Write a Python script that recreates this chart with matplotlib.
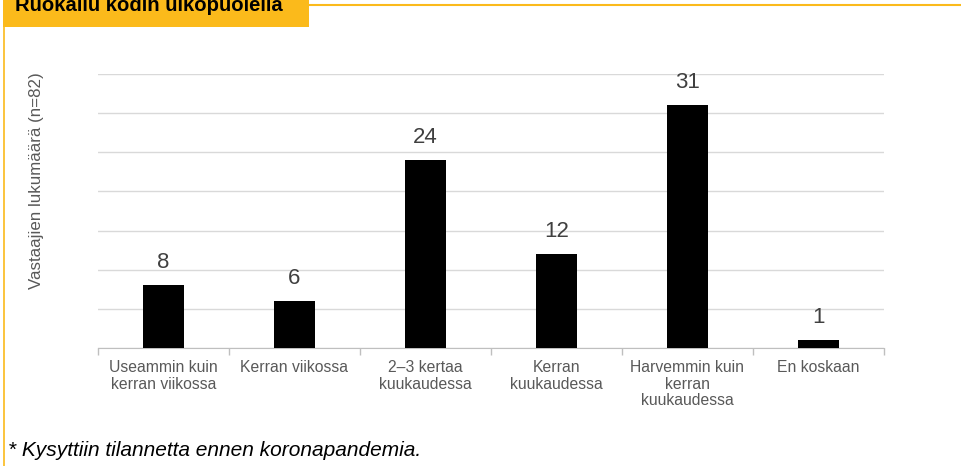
import numpy as np
import matplotlib.pyplot as plt
from matplotlib.patches import Rectangle
from matplotlib.lines import Line2D

plt.rcParams['font.family'] = ['Liberation Sans', 'DejaVu Sans']

categories = ['Useammin kuin\nkerran viikossa', 'Kerran viikossa', '2–3 kertaa\nkuukaudessa',
              'Kerran\nkuukaudessa', 'Harvemmin kuin\nkerran\nkuukaudessa', 'En koskaan']
counts = [8, 6, 24, 12, 31, 1]
title = 'Ruokailu kodin ulkopuolella'
ylabel = 'Vastaajien lukumäärä (n=82)'
footnote = '* Kysyttiin tilannetta ennen koronapandemia.'

W, H = 961, 466
fig = plt.figure(figsize=(W / 100, H / 100), dpi=100)
ax = fig.add_axes([98 / W, 1 - 348 / H, (884 - 98) / W, (348 - 74) / H])

yellow = '#FBBA1B'
# title box and frame lines
fig.patches.append(Rectangle((3 / W, 1 - 27 / H), 306 / W, 27 / H, transform=fig.transFigure,
                             facecolor=yellow, edgecolor='none', zorder=0))
fig.lines.append(Line2D([309 / W, 1], [1 - 5 / H, 1 - 5 / H], transform=fig.transFigure,
                        color=yellow, lw=1.5))
fig.lines.append(Line2D([4 / W, 4 / W], [0, 1 - 27 / H], transform=fig.transFigure,
                        color=yellow, lw=1.2))
fig.text(15 / W, 1 - 11 / H, title, fontsize=14.6, fontweight='bold', color='black',
         ha='left', va='baseline')

x = np.arange(len(categories))
bars = ax.bar(x, counts, width=0.32, color='black', zorder=3)
for xi, v in zip(x, counts):
    ax.annotate(str(v), (xi, v), xytext=(0, 12.2), textcoords='offset points',
                ha='center', va='baseline', fontsize=16, color='#404040')

ax.set_xlim(-0.5, len(categories) - 0.5)
ax.set_ylim(0, 35)
ax.set_yticks(np.arange(0, 36, 5))
ax.set_yticklabels([])
ax.tick_params(axis='y', length=0)
ax.grid(axis='y', color='#d9d9d9', lw=1, zorder=0)

ax.set_xticks(x)
ax.set_xticklabels(categories, fontsize=11.3, color='#595959', linespacing=1.1)
ax.tick_params(axis='x', which='major', length=0, pad=9)
ax.set_xticks(np.arange(-0.5, len(categories), 1), minor=True)
ax.tick_params(axis='x', which='minor', length=5, color='#bfbfbf', width=1)

for s in ['top', 'right', 'left']:
    ax.spines[s].set_visible(False)
ax.spines['bottom'].set_color('#bfbfbf')

fig.text(37 / W, 1 - 181 / H, ylabel, rotation=90, fontsize=12.2, color='#595959',
         ha='center', va='center')
fig.text(8 / W, 1 - 450 / H, footnote, fontsize=15, style='italic', color='black',
         ha='left', va='center')

fig.savefig('out.png', dpi=100)
